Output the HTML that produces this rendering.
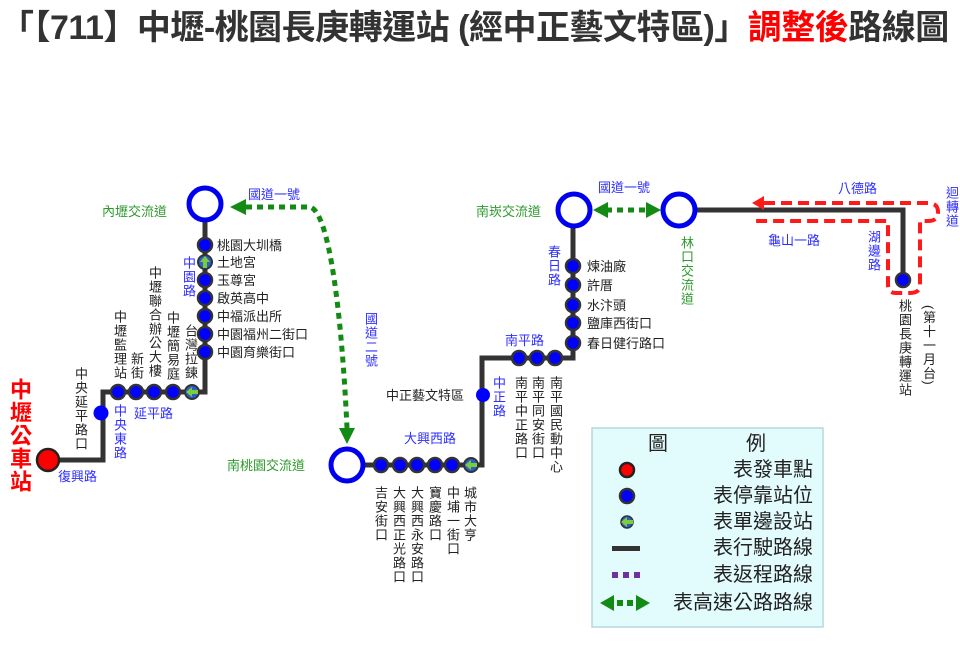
<!DOCTYPE html>
<html><head><meta charset="utf-8"><style>
html,body{margin:0;padding:0;background:#fff;}
body{width:960px;height:665px;position:relative;overflow:hidden;font-family:"Liberation Sans","Noto Sans CJK TC",sans-serif;}
.t{position:absolute;white-space:nowrap;font-size:13px;line-height:15px;color:#222;}
.v{position:absolute;writing-mode:vertical-rl;text-orientation:upright;font-size:13px;line-height:14px;letter-spacing:1px;color:#222;white-space:nowrap;}
.b{color:#2f2fff;}
.g{color:#2e9a2e;}
.lg{font-size:20px;line-height:24px;width:160px;text-align:right;}
svg{position:absolute;left:0;top:0;}
</style></head><body>
<svg width="960" height="665" viewBox="0 0 960 665">
<rect x="592" y="428" width="231" height="199" fill="#e2fbfd" stroke="#b6d8dc" stroke-width="1.5"/>
<g fill="none" stroke="#333" stroke-width="5" stroke-linejoin="miter">
<polyline points="48,460 103,460 103,392 205,392 205,205"/>
<polyline points="347,465 482,465 482,358 573,358 573,210"/>
<polyline points="679,210 903,210 903,280"/>
</g>
<g fill="none" stroke="#ff1a1a" stroke-width="4" stroke-dasharray="11,6">
<path d="M764,203 L928,203 Q938,203 938,212 Q938,221 928,221 L920,221 L920,285 Q920,293 910,293 L896,293 Q888,293 888,285 L888,221 L752,221"/>
</g>
<path d="M752,203 L764,196 L764,210 Z" fill="#ff1a1a"/>
<g fill="none" stroke="#138a13" stroke-width="5" stroke-dasharray="6,5">
<path d="M246,207 L310,207 C330,212 342,320 347,428"/>
<line x1="606" y1="210" x2="647" y2="210"/>
</g>
<path d="M230,207 L246,199 L246,215 Z" fill="#138a13"/>
<path d="M347,444 L339,428 L355,428 Z" fill="#138a13"/>
<path d="M593,210 L608,202 L608,218 Z" fill="#138a13"/>
<path d="M661,210 L646,202 L646,218 Z" fill="#138a13"/>
<g fill="#fff" stroke="#0000ee" stroke-width="5">
<circle cx="205" cy="204" r="16"/>
<circle cx="347" cy="465" r="16"/>
<circle cx="574" cy="210" r="16"/>
<circle cx="679" cy="210" r="16"/>
</g>
<circle cx="48" cy="460" r="11" fill="#ff0000" stroke="#222" stroke-width="2.5"/>
<g fill="#0000ff" stroke="#333" stroke-width="2.5">
<circle cx="101" cy="413" r="7.5" stroke="none"/>
<circle cx="118" cy="392" r="7"/><circle cx="136" cy="392" r="7"/><circle cx="154" cy="392" r="7"/><circle cx="173" cy="392" r="7"/>
<circle cx="205" cy="245" r="7"/><circle cx="205" cy="280" r="7"/><circle cx="205" cy="298" r="7"/><circle cx="205" cy="316" r="7"/><circle cx="205" cy="334" r="7"/><circle cx="205" cy="352" r="7"/>
<circle cx="381" cy="465" r="7"/><circle cx="400" cy="465" r="7"/><circle cx="417" cy="465" r="7"/><circle cx="435" cy="465" r="7"/><circle cx="452" cy="465" r="7"/>
<circle cx="483" cy="395" r="7" stroke="none"/>
<circle cx="519" cy="358" r="7"/><circle cx="537" cy="358" r="7"/><circle cx="555" cy="358" r="7"/>
<circle cx="573" cy="266" r="7"/><circle cx="573" cy="285" r="7"/><circle cx="573" cy="305" r="7"/><circle cx="573" cy="323" r="7"/><circle cx="573" cy="343" r="7"/>
<circle cx="903" cy="280" r="7"/>
<circle cx="627" cy="496" r="7"/>
</g>
<circle cx="627" cy="470" r="7" fill="#ff0000" stroke="#222" stroke-width="2.5"/>
<g>
<circle cx="205" cy="262" r="7" fill="#2a5fd0" stroke="#333" stroke-width="2"/><path d="M205,256 L210,262 L207,262 L207,268 L203,268 L203,262 L200,262 Z" fill="#7ccd3c"/>
<circle cx="192" cy="392" r="7" fill="#2a5fd0" stroke="#333" stroke-width="2"/><path d="M186,392 L192,387 L192,390 L198,390 L198,394 L192,394 L192,397 Z" fill="#7ccd3c"/>
<circle cx="471" cy="465" r="7" fill="#2a5fd0" stroke="#333" stroke-width="2"/><path d="M465,465 L471,460 L471,463 L477,463 L477,467 L471,467 L471,470 Z" fill="#7ccd3c"/>
<circle cx="627" cy="522" r="6" fill="#2a5fd0" stroke="#333" stroke-width="1.5"/><path d="M621,522 L627,517 L627,520 L633,520 L633,524 L627,524 L627,527 Z" fill="#7ccd3c"/>
</g>
<rect x="612" y="546" width="28" height="5" fill="#333"/>
<g fill="#7030a0"><rect x="612" y="572" width="6" height="6"/><rect x="623" y="572" width="6" height="6"/><rect x="634" y="572" width="6" height="6"/></g>
<path d="M600,603 L614,595 L614,611 Z" fill="#138a13"/><rect x="617" y="600" width="6" height="6" fill="#138a13"/><rect x="627" y="600" width="6" height="6" fill="#138a13"/><path d="M650,603 L636,595 L636,611 Z" fill="#138a13"/>
</svg>

<div class="t" style="left:0;top:6px;font-size:34px;line-height:44px;font-weight:bold;color:#333;letter-spacing:-0.5px;">「【711】中壢-桃園長庚轉運站 (經中正藝文特區)」<span style="color:#ff0000">調整後</span>路線圖</div>

<div class="v" style="left:7px;top:378px;font-size:22px;line-height:24px;color:#ff0000;font-weight:bold;letter-spacing:1px;">中壢公車站</div>
<div class="t b" style="left:58px;top:469px;">復興路</div>
<div class="v" style="left:73px;top:367px;">中央延平路口</div>
<div class="v b" style="left:112px;top:404px;">中央東路</div>
<div class="t b" style="left:134px;top:406px;">延平路</div>
<div class="v" style="left:112px;top:310px;">中壢監理站</div>
<div class="v" style="left:129px;top:352px;">新街</div>
<div class="v" style="left:147px;top:266px;">中壢聯合辦公大樓</div>
<div class="v" style="left:165px;top:311px;">中壢簡易庭</div>
<div class="v" style="left:183px;top:324px;">台灣拉鍊</div>
<div class="v b" style="left:181px;top:256px;">中園路</div>
<div class="t g" style="left:102px;top:204px;">內壢交流道</div>
<div class="t b" style="left:248px;top:187px;">國道一號</div>
<div class="t" style="left:217px;top:238px;">桃園大圳橋</div>
<div class="t" style="left:217px;top:255px;">土地宮</div>
<div class="t" style="left:217px;top:273px;">玉尊宮</div>
<div class="t" style="left:217px;top:291px;">啟英高中</div>
<div class="t" style="left:217px;top:309px;">中福派出所</div>
<div class="t" style="left:217px;top:327px;">中園福州二街口</div>
<div class="t" style="left:217px;top:345px;">中園育樂街口</div>

<div class="v b" style="left:363px;top:312px;">國道二號</div>
<div class="t g" style="left:227px;top:458px;">南桃園交流道</div>
<div class="t b" style="left:404px;top:431px;">大興西路</div>
<div class="v" style="left:373px;top:486px;">吉安街口</div>
<div class="v" style="left:391px;top:486px;">大興西正光路口</div>
<div class="v" style="left:409px;top:486px;">大興西永安路口</div>
<div class="v" style="left:427px;top:486px;">寶慶路口</div>
<div class="v" style="left:445px;top:486px;">中埔一街口</div>
<div class="v" style="left:462px;top:486px;">城市大亨</div>
<div class="t" style="left:386px;top:388px;">中正藝文特區</div>
<div class="v b" style="left:491px;top:376px;">中正路</div>
<div class="t b" style="left:505px;top:333px;">南平路</div>
<div class="v" style="left:513px;top:376px;">南平中正路口</div>
<div class="v" style="left:530px;top:376px;">南平同安街口</div>
<div class="v" style="left:548px;top:376px;">南平國民動中心</div>
<div class="v b" style="left:546px;top:245px;">春日路</div>
<div class="t" style="left:587px;top:259px;">煉油廠</div>
<div class="t" style="left:587px;top:278px;">許厝</div>
<div class="t" style="left:587px;top:298px;">水汴頭</div>
<div class="t" style="left:587px;top:316px;">鹽庫西街口</div>
<div class="t" style="left:587px;top:336px;">春日健行路口</div>
<div class="t g" style="left:476px;top:204px;">南崁交流道</div>
<div class="t b" style="left:598px;top:180px;">國道一號</div>
<div class="v g" style="left:679px;top:236px;">林口交流道</div>

<div class="t b" style="left:838px;top:181px;">八德路</div>
<div class="v b" style="left:944px;top:186px;">迴轉道</div>
<div class="t b" style="left:768px;top:233px;">龜山一路</div>
<div class="v b" style="left:866px;top:230px;">湖邊路</div>
<div class="v" style="left:897px;top:299px;">桃園長庚轉運站</div>
<div class="v" style="left:921px;top:305px;text-orientation:mixed;">(第十一月台)</div>

<div class="t" style="left:648px;top:432px;font-size:20px;line-height:24px;">圖</div>
<div class="t" style="left:746px;top:432px;font-size:20px;line-height:24px;">例</div>
<div class="t lg" style="left:653px;top:458px;">表發車點</div>
<div class="t lg" style="left:653px;top:484px;">表停靠站位</div>
<div class="t lg" style="left:653px;top:510px;">表單邊設站</div>
<div class="t lg" style="left:653px;top:536px;">表行駛路線</div>
<div class="t lg" style="left:653px;top:563px;">表返程路線</div>
<div class="t lg" style="left:613px;top:591px;width:200px;">表高速公路路線</div>
</body></html>
